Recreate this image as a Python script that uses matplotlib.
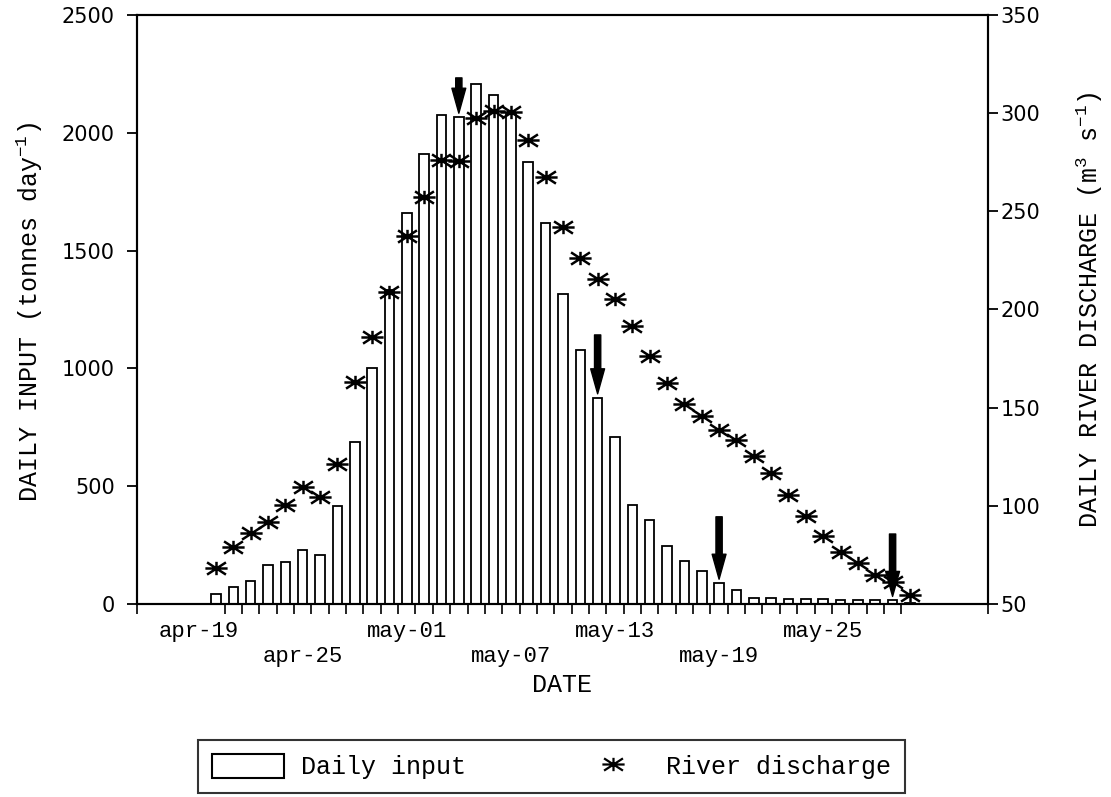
import matplotlib.pyplot as plt
import numpy as np
from matplotlib.path import Path
from matplotlib.patches import Patch
from matplotlib.lines import Line2D

plt.rcParams['mathtext.default'] = 'regular'
mono = 'Liberation Mono'

# day number counted from apr-19 (day 1 = apr-20)
day = np.arange(1, 42)
daily_input = [41, 72, 97, 167, 177, 229, 209, 415, 689, 1000,
               1333, 1659, 1910, 2076, 2066, 2207, 2160, 2080, 1878, 1616,
               1315, 1076, 875, 708, 420, 356, 244, 184, 141, 88,
               60, 24, 25, 22, 21, 23, 17, 17, 17, 15, 5]
discharge = [68.2, 79.2, 86.3, 91.6, 100.4, 109.7, 104.3, 121.3, 163.1, 186.2,
             208.8, 237.6, 257.5, 276.2, 275.7, 297.4, 301.3, 300.8, 286.4, 267.4,
             242.2, 226.1, 215.4, 205.2, 191.6, 176.4, 162.8, 152.0, 145.9, 138.7,
             133.6, 125.5, 116.9, 105.5, 94.8, 84.6, 76.4, 70.7, 64.7, 61.3, 54.5]
date_labels = ['apr-19', 'apr-25', 'may-01', 'may-07', 'may-13', 'may-19', 'may-25']
date_pos = [0, 6, 12, 18, 24, 30, 36]
arrow_days = [15, 23, 30, 40]
arrow_len = [150, 250, 265, 265]

# asterisk marker: horizontal bar, two flat diagonals, short vertical
verts = [(-1, 0), (1, 0), (-0.85, -0.55), (0.85, 0.55),
         (-0.85, 0.55), (0.85, -0.55), (0, -0.6), (0, 0.6)]
codes = [Path.MOVETO, Path.LINETO] * 4
star = Path(verts, codes)

fig = plt.figure(figsize=(11.11, 7.97), dpi=100)
ax = fig.add_axes([0.1233, 0.2422, 0.766, 0.739])
ax2 = ax.twinx()

ax.bar(day, daily_input, width=0.55, color='white', edgecolor='black', linewidth=1.3)
ax2.plot(day, discharge, ls='none', marker=star, ms=16, mfc='none',
         mec='black', mew=1.8)

for d, L in zip(arrow_days, arrow_len):
    tip = daily_input[d - 1] + 17
    ax2.annotate('', xy=(d, tip), xytext=(d, tip + L),
                 xycoords=ax.transData, textcoords=ax.transData,
                 arrowprops=dict(facecolor='black', edgecolor='black',
                                 width=4.5, headwidth=10, headlength=18, shrink=0))

ax.set_xlim(-3.55, 45.5)
ax.set_ylim(0, 2500)
ax2.set_ylim(50, 350)
ax.set_yticks(range(0, 2501, 500))
ax2.set_yticks(range(50, 351, 50))

labels = [lab if i % 2 == 0 else '\n' + lab for i, lab in enumerate(date_labels)]
ax.set_xticks(date_pos)
ax.set_xticklabels(labels, fontsize=16, family=mono, linespacing=1.3)
ax.set_xticks(np.r_[-3.55, day[:-1] + 0.5, 45.5], minor=True)
ax.tick_params(axis='x', which='major', length=0, pad=12)
ax.tick_params(axis='x', which='minor', length=7, width=1.2, direction='out')
ax.tick_params(axis='y', length=7, width=1.3, pad=9, labelsize=15)
ax2.tick_params(axis='y', length=7, width=1.3, pad=2, labelsize=15)

for a in (ax, ax2):
    for s in a.spines.values():
        s.set_linewidth(1.5)

ax.set_xlabel('DATE', fontsize=18, family=mono, labelpad=4)
fig.text(30 / 1111, 1 - 312 / 797, 'DAILY INPUT (tonnes day$^{-1}$)', rotation=90,
         ha='center', va='center', fontsize=18, family=mono)
fig.text(1090 / 1111, 1 - 310 / 797, 'DAILY RIVER DISCHARGE (m$^3$ s$^{-1}$)',
         rotation=90, ha='center', va='center', fontsize=18, family=mono)

handles = [Patch(facecolor='white', edgecolor='black', linewidth=1.5),
           Line2D([], [], ls='none', marker=star, ms=16, mfc='none',
                  mec='black', mew=1.6)]
leg = fig.legend(handles, ['Daily input', 'River discharge'], ncol=2,
                 loc='upper left', bbox_to_anchor=(198 / 1111, 1 - 740 / 797),
                 prop={'family': mono, 'size': 18}, frameon=True, fancybox=False,
                 edgecolor='black', handlelength=2.9, handleheight=1.1,
                 handletextpad=0.68, columnspacing=4.4, borderpad=0.55,
                 borderaxespad=0)
leg.get_frame().set_linewidth(1.5)

fig.savefig('out.png', dpi=100)
